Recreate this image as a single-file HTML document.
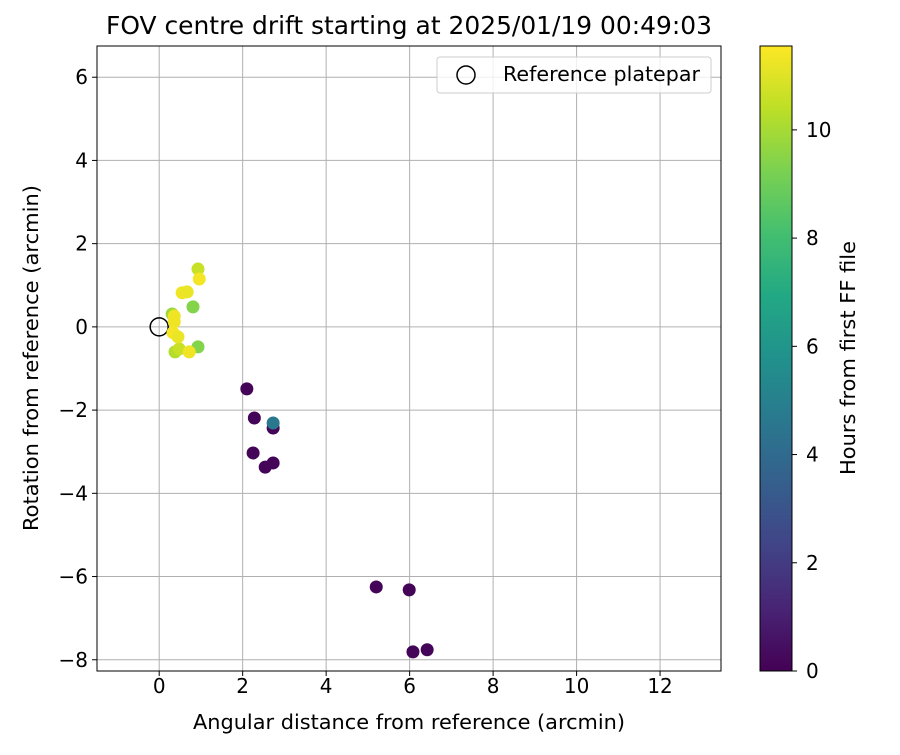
<!DOCTYPE html>
<html><head><meta charset="utf-8"><style>
body{margin:0;background:#fff;font-family:"Liberation Sans","DejaVu Sans",sans-serif}
svg text{font-family:"DejaVu Sans","Liberation Sans",sans-serif;fill:#000}
</style></head><body>
<svg id="c" width="900" height="750" viewBox="0 0 900 750">
<defs><linearGradient id="vir" x1="0" y1="1" x2="0" y2="0">
<stop offset="0" stop-color="#440154"/><stop offset="0.1" stop-color="#482475"/><stop offset="0.2" stop-color="#414487"/><stop offset="0.3" stop-color="#355f8d"/><stop offset="0.4" stop-color="#2a788e"/><stop offset="0.5" stop-color="#21918c"/><stop offset="0.6" stop-color="#22a884"/><stop offset="0.7" stop-color="#44bf70"/><stop offset="0.8" stop-color="#7ad151"/><stop offset="0.9" stop-color="#bddf26"/><stop offset="1" stop-color="#fde725"/></linearGradient></defs>
<text x="409" y="34" font-size="25" text-anchor="middle" textLength="606" lengthAdjust="spacingAndGlyphs">FOV centre drift starting at 2025/01/19 00:49:03</text>
<g id="grid"></g><g id="pts"></g><g id="axes"></g>
<text x="409" y="729" font-size="20" text-anchor="middle" textLength="432" lengthAdjust="spacingAndGlyphs">Angular distance from reference (arcmin)</text>
<text transform="translate(38,358) rotate(-90)" font-size="20" text-anchor="middle" textLength="346" lengthAdjust="spacingAndGlyphs">Rotation from reference (arcmin)</text>
<g>
<rect x="437" y="57" width="274" height="36" rx="3" fill="#fff" fill-opacity="0.8" stroke="#ccc"/>
<circle cx="466" cy="75" r="9" fill="none" stroke="#000" stroke-width="1.5"/>
<text x="503" y="81" font-size="20" textLength="197" lengthAdjust="spacingAndGlyphs">Reference platepar</text></g>
<rect x="760" y="46" width="32" height="625" fill="url(#vir)" stroke="#000"/>
<g id="cb"></g>
<text transform="translate(855,358) rotate(-90)" font-size="20" text-anchor="middle" textLength="234" lengthAdjust="spacingAndGlyphs">Hours from first FF file</text>
</svg>
<script>
const xs=[2.1,2.28,2.25,2.54,2.73,2.73,5.2,5.99,6.08,6.42,2.73,0.81,0.31,0.93,0.38,0.93,0.48,0.36,0.36,0.33,0.45,0.55,0.67,0.96,0.72];
const ys=[-1.49,-2.19,-3.03,-3.37,-3.27,-2.43,-6.25,-6.32,-7.81,-7.76,-2.31,0.48,0.31,1.39,-0.6,-0.48,-0.53,0.26,0.12,-0.14,-0.24,0.82,0.84,1.15,-0.6];
const hours=[0.1,0.1,0.1,0.1,0.1,0.1,0.1,0.1,0.1,0.1,4.6,9.4,9.8,10.6,10.2,9.4,10.6,11.3,11.3,11.4,11.2,11.3,11.2,11.4,11.3];
const xTicks=[0,2,4,6,8,10,12], yTicks=[6,4,2,0,-2,-4,-6,-8], cTicks=[0,2,4,6,8,10];
const X0=97,X1=721,Y0=46,Y1=671,xmin=-1.49,xmax=13.46,ymin=-8.27,ymax=6.75,cmax=11.55;
const X=v=>X0+(v-xmin)/(xmax-xmin)*(X1-X0), Y=v=>Y1-(v-ymin)/(ymax-ymin)*(Y1-Y0);
const C=v=>Y1-v/cmax*(Y1-Y0);
const NS="http://www.w3.org/2000/svg";
function mk(t,a,p){const e=document.createElementNS(NS,t);for(const k in a)e.setAttribute(k,a[k]);p.appendChild(e);return e;}
const vs=[[68,1,84],[72,36,117],[65,68,135],[53,95,141],[42,120,142],[33,145,140],[34,168,132],[68,191,112],[122,209,81],[189,223,38],[253,231,37]];
function vir(t){t=Math.max(0,Math.min(1,t))*10;const i=Math.min(9,Math.floor(t)),f=t-i,a=vs[i],b=vs[i+1];return`rgb(${a.map((v,k)=>Math.round(v+(b[k]-v)*f)).join(',')})`;}
const g=document.getElementById('grid'),ax=document.getElementById('axes'),pg=document.getElementById('pts'),cb=document.getElementById('cb');
xTicks.forEach(t=>{const x=X(t);
let l=mk('line',{x1:x,x2:x,y1:Y0,y2:Y1,stroke:'#b0b0b0','stroke-width':1},g);
mk('line',{x1:x,x2:x,y1:Y1,y2:Y1+5,stroke:'#000'},ax);
let tx=mk('text',{x:x,y:Y1+22,'font-size':20,'text-anchor':'middle'},ax);tx.textContent=t;});
yTicks.forEach(t=>{const y=Y(t);
let l=mk('line',{x1:X0,x2:X1,y1:y,y2:y,stroke:'#b0b0b0','stroke-width':1},g);
mk('line',{x1:X0-5,x2:X0,y1:y,y2:y,stroke:'#000'},ax);
let tx=mk('text',{x:X0-9,y:y+7,'font-size':20,'text-anchor':'end'},ax);tx.textContent=(t<0?'\u2212'+(-t):t);});
let fr=mk('rect',{x:X0,y:Y0,width:X1-X0,height:Y1-Y0,fill:'none',stroke:'#000'},ax);
let ref=mk('circle',{cx:X(0),cy:Y(0),r:9,fill:'none',stroke:'#000','stroke-width':1.5},pg);
xs.forEach((v,i)=>{let c=mk('circle',{cx:X(v),cy:Y(ys[i]),r:6.5,fill:vir(hours[i]/cmax)},pg);});
cTicks.forEach(t=>{const y=C(t);mk('line',{x1:792,x2:797,y1:y,y2:y,stroke:'#000'},cb);
let tx=mk('text',{x:806,y:y+7,'font-size':20},cb);tx.textContent=t;});
</script></body></html>
